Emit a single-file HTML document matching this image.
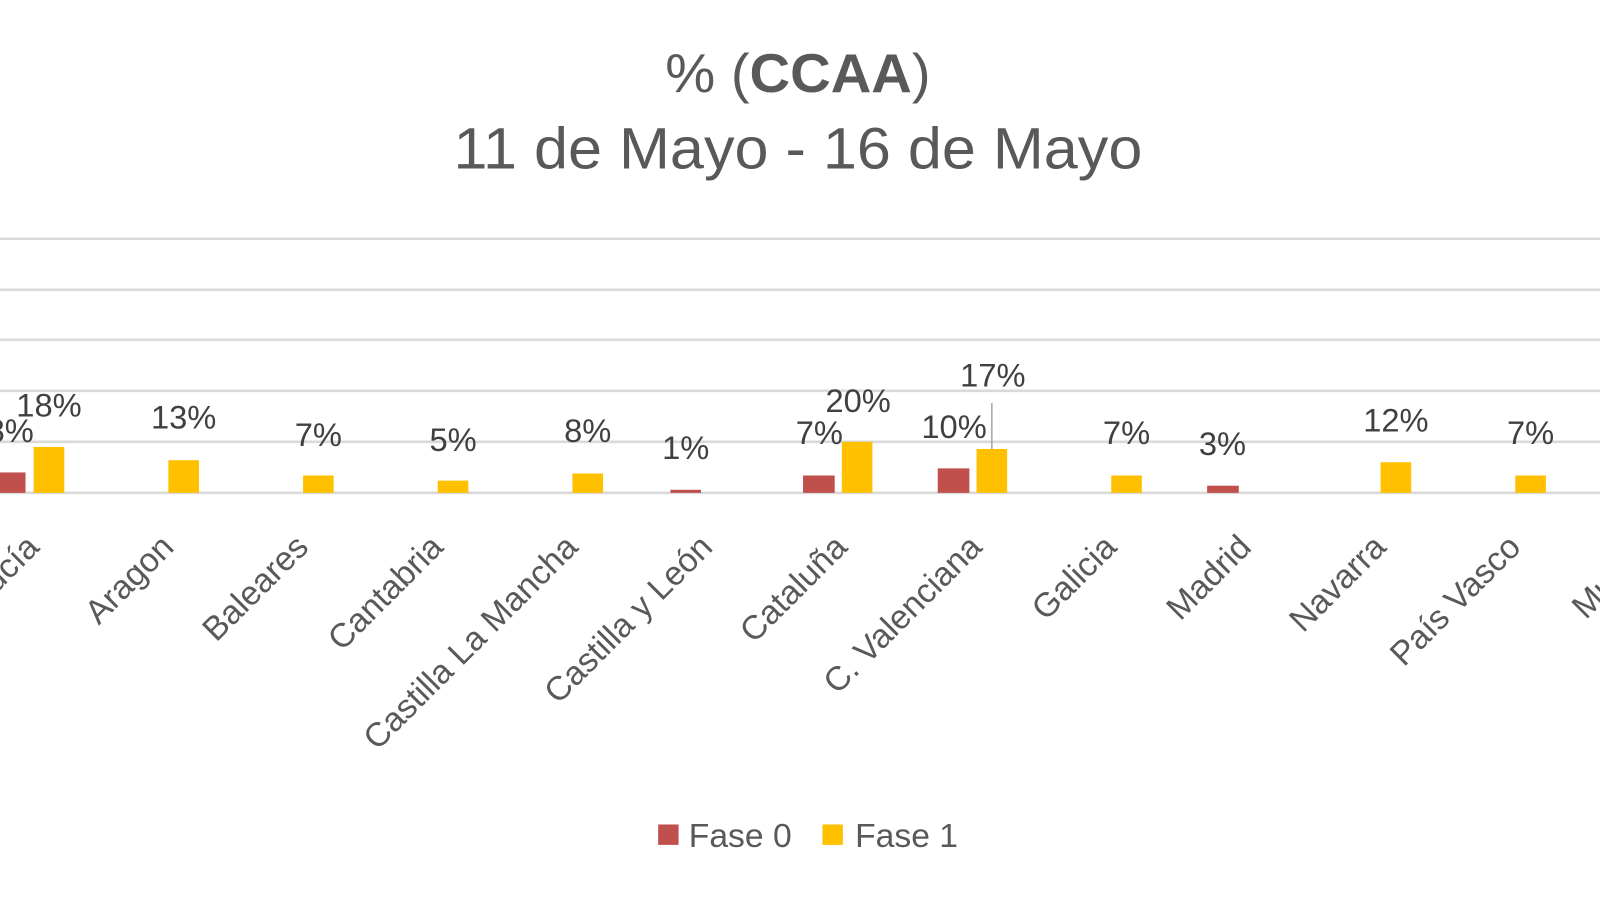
<!DOCTYPE html>
<html><head><meta charset="utf-8"><style>
html,body{margin:0;padding:0;background:#fff;}
svg{display:block;font-family:"Liberation Sans","DejaVu Sans",sans-serif;}
</style></head><body>
<svg width="1600" height="900" viewBox="0 0 1600 900" xmlns="http://www.w3.org/2000/svg">
<rect width="1600" height="900" fill="#fff"/>
<g transform="scale(1.0204)">
<text x="782" y="90" text-anchor="middle" font-size="54" fill="#595959" textLength="260" lengthAdjust="spacingAndGlyphs">% (<tspan font-weight="bold">CCAA</tspan>)</text>
<text x="782" y="165" text-anchor="middle" font-size="57" fill="#595959" textLength="675" lengthAdjust="spacingAndGlyphs">11 de Mayo - 16 de Mayo</text>
<g stroke="#d9d9d9" stroke-width="2.5">
<line x1="0" y1="234" x2="1600" y2="234"/>
<line x1="0" y1="284" x2="1600" y2="284"/>
<line x1="0" y1="333" x2="1600" y2="333"/>
<line x1="0" y1="383" x2="1600" y2="383"/>
<line x1="0" y1="433" x2="1600" y2="433"/>
<line x1="0" y1="483" x2="1600" y2="483"/>
</g>
<g fill="#c0504d">
<rect x="-3" y="463" width="28" height="20"/>
<rect x="657" y="480" width="30" height="3"/>
<rect x="787" y="466" width="31" height="17"/>
<rect x="919" y="459" width="31" height="24"/>
<rect x="1183" y="476" width="31" height="7"/>
</g>
<g fill="#ffc000">
<rect x="33" y="438" width="30" height="45"/>
<rect x="165" y="451" width="30" height="32"/>
<rect x="297" y="466" width="30" height="17"/>
<rect x="429" y="471" width="30" height="12"/>
<rect x="561" y="464" width="30" height="19"/>
<rect x="825" y="433" width="30" height="50"/>
<rect x="957" y="440" width="30" height="43"/>
<rect x="1089" y="466" width="30" height="17"/>
<rect x="1353" y="453" width="30" height="30"/>
<rect x="1485" y="466" width="30" height="17"/>
</g>
<line x1="972" y1="395" x2="972" y2="440" stroke="#a6a6a6" stroke-width="1.5"/>
<g font-size="32" fill="#404040" text-anchor="middle">
<text x="10" y="433">8%</text>
<text x="48" y="408">18%</text>
<text x="180" y="420">13%</text>
<text x="312" y="437">7%</text>
<text x="444" y="442">5%</text>
<text x="576" y="433">8%</text>
<text x="672" y="450">1%</text>
<text x="803" y="435">7%</text>
<text x="841" y="404">20%</text>
<text x="935" y="429">10%</text>
<text x="973" y="379">17%</text>
<text x="1104" y="435">7%</text>
<text x="1198" y="446">3%</text>
<text x="1368" y="423">12%</text>
<text x="1500" y="435">7%</text>
</g>
<g font-size="33" fill="#595959" text-anchor="end">
<text transform="translate(40,538) rotate(-45)">Andalucía</text>
<text transform="translate(172,538) rotate(-45)">Aragon</text>
<text transform="translate(304,538) rotate(-45)">Baleares</text>
<text transform="translate(436,538) rotate(-45)">Cantabria</text>
<text transform="translate(568,538) rotate(-45)">Castilla La Mancha</text>
<text transform="translate(700,538) rotate(-45)">Castilla y León</text>
<text transform="translate(832,538) rotate(-45)">Cataluña</text>
<text transform="translate(964,538) rotate(-45)">C. Valenciana</text>
<text transform="translate(1096,538) rotate(-45)">Galicia</text>
<text transform="translate(1228,538) rotate(-45)">Madrid</text>
<text transform="translate(1360,538) rotate(-45)">Navarra</text>
<text transform="translate(1492,538) rotate(-45)">País Vasco</text>
<text transform="translate(1624,538) rotate(-45)">Murcia</text>
</g>
<rect x="645" y="808" width="20" height="20" fill="#c0504d"/>
<text x="675" y="830" font-size="33" fill="#595959">Fase 0</text>
<rect x="806" y="808" width="20" height="20" fill="#ffc000"/>
<text x="838" y="830" font-size="33" fill="#595959">Fase 1</text>
</g>
</svg>
</body></html>
